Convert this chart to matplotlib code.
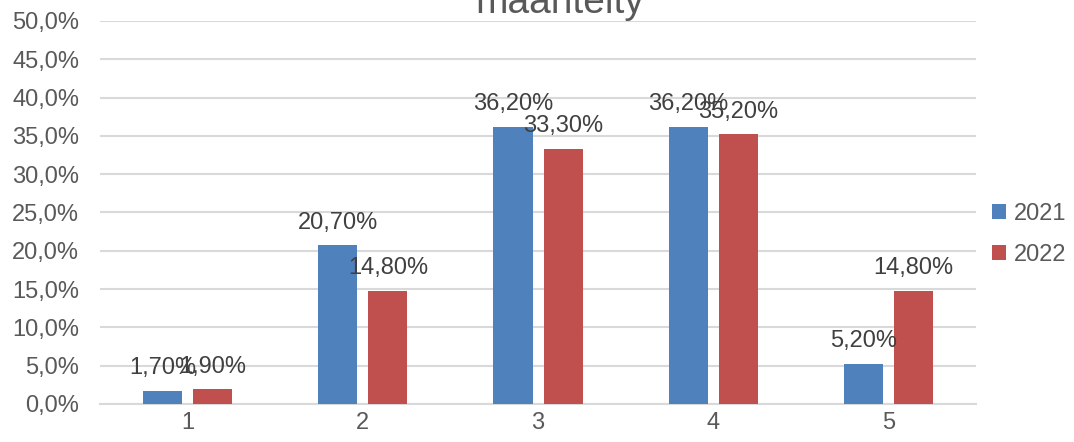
import matplotlib.pyplot as plt
import numpy as np

plt.rcParams['font.family'] = ['Liberation Sans', 'DejaVu Sans']

categories = ['1', '2', '3', '4', '5']
years = ['2021', '2022']
values_2021 = [1.7, 20.7, 36.2, 36.2, 5.2]
values_2022 = [1.9, 14.8, 33.3, 35.2, 14.8]
yticks = [0, 5, 10, 15, 20, 25, 30, 35, 40, 45, 50]
title = 'maanteity'

blue = '#4f81bd'
red = '#c0504d'
grid_col = '#d9d9d9'
tick_col = '#595959'
label_col = '#404040'

fig = plt.figure(figsize=(10.74, 4.42), dpi=100)
ax = fig.add_axes([0.093, 0.086, 0.816, 0.8665])

x = np.arange(len(categories))
w = 0.223
gap = 0.063
b1 = ax.bar(x - (w + gap) / 2, values_2021, w, color=blue, label=years[0], zorder=3)
b2 = ax.bar(x + (w + gap) / 2, values_2022, w, color=red, label=years[1], zorder=3)

def fmt(v):
    return ('%.2f%%' % v).replace('.', ',')

# value labels above each bar
for bars, vals in [(b1, values_2021), (b2, values_2022)]:
    for rect, v in zip(bars, vals):
        ax.annotate(fmt(v), (rect.get_x() + rect.get_width() / 2, v),
                    xytext=(0, 12), textcoords='offset points',
                    ha='center', va='baseline', fontsize=17, color=label_col, zorder=4)

ax.set_xlim(-0.5, len(categories) - 0.5)
ax.set_ylim(0, 50)
ax.set_xticks(x)
ax.set_xticklabels(categories)
ax.set_yticks(yticks)
ax.set_yticklabels([('%.1f%%' % t).replace('.', ',') for t in yticks])
ax.tick_params(axis='both', length=0, labelsize=17, labelcolor=tick_col)
ax.tick_params(axis='y', pad=15)
ax.tick_params(axis='x', pad=6)
ax.yaxis.grid(True, color=grid_col, linewidth=1.5, zorder=0)
for s in ['top', 'right', 'left']:
    ax.spines[s].set_visible(False)
ax.spines['bottom'].set_color(grid_col)
ax.spines['bottom'].set_linewidth(1.5)

leg = fig.legend(loc='center left', bbox_to_anchor=(0.904, 0.47), frameon=False,
                 fontsize=17, handlelength=0.6, handleheight=0.6, handletextpad=0.3,
                 labelspacing=0.8)
for t in leg.get_texts():
    t.set_color(tick_col)

fig.text(0.521, 0.971, title, ha='center', va='baseline', fontsize=28, color=tick_col)

fig.savefig('out.png', dpi=100)
